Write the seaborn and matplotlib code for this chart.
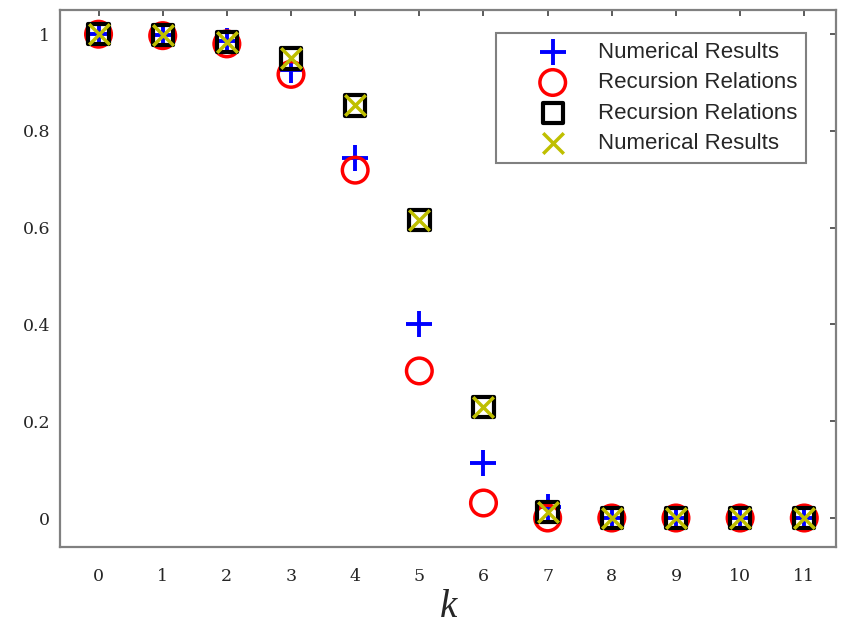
import numpy as np
import pandas as pd
import matplotlib
matplotlib.use('Agg')
import matplotlib.pyplot as plt
import seaborn as sns

# values
k = list(range(12))
num_a = [1.0, 0.998, 0.985, 0.925, 0.745, 0.40, 0.113, 0.022, 0.0, 0.0, 0.0, 0.0]
rec_a = [1.0, 0.997, 0.980, 0.917, 0.719, 0.304, 0.031, 0.0, 0.0, 0.0, 0.0, 0.0]
rec_b = [1.0, 0.998, 0.984, 0.950, 0.853, 0.616, 0.229, 0.012, 0.0, 0.0, 0.0, 0.0]
num_b = [1.0, 0.998, 0.984, 0.950, 0.853, 0.616, 0.229, 0.012, 0.0, 0.0, 0.0, 0.0]
labels = ['Numerical Results', 'Recursion Relations', 'Recursion Relations', 'Numerical Results']
yticks = [0, 0.2, 0.4, 0.6, 0.8, 1]
ytick_labels = ['0', '0.2', '0.4', '0.6', '0.8', '1']

sns.set_style('white')

fig = plt.figure(figsize=(8.42, 6.3), dpi=100)
ax = fig.add_axes([0.0713, 0.1317, 0.922, 0.8524])

# blue plus
sns.scatterplot(x=k, y=num_a, marker='+', s=330, color='#0000ff', linewidth=2.8,
                label=labels[0], ax=ax, zorder=3)
# red open circles
sns.scatterplot(x=k, y=rec_a, marker='o', s=340, facecolor='none', edgecolor='#ff0000',
                linewidth=2.5, label=labels[1], ax=ax, zorder=3)
# black open squares
sns.scatterplot(x=k, y=rec_b, marker='s', s=215, facecolor='none', edgecolor='black',
                linewidth=3.0, label=labels[2], ax=ax, zorder=3)
# yellow crosses
sns.scatterplot(x=k, y=num_b, marker='x', s=220, color='#bfbf00', linewidth=2.5,
                label=labels[3], ax=ax, zorder=3)

ax.set_xlim(-0.6, 11.5)
ax.set_ylim(-0.06, 1.05)
ax.set_xticks(k)
ax.set_xticklabels([str(i) for i in k])
ax.set_yticks(yticks)
ax.set_yticklabels(ytick_labels)

for sp in ax.spines.values():
    sp.set_color('#808080')
    sp.set_linewidth(1.6)

ax.tick_params(axis='both', direction='in', length=4, width=1.2, color='#404040',
               top=True, right=True, labelsize=12.5, labelcolor='#262626')
ax.tick_params(axis='x', pad=15)
ax.tick_params(axis='y', pad=7)
for lab in ax.get_xticklabels() + ax.get_yticklabels():
    lab.set_family('DejaVu Serif')

ax.set_xlabel('k', fontsize=28, family='Liberation Serif', style='italic', labelpad=3)
ax.set_ylabel('')

leg = ax.legend(loc='upper right', bbox_to_anchor=(0.961, 0.957), borderaxespad=0,
                fancybox=False, framealpha=1, edgecolor='#808080',
                prop={'family': 'Liberation Sans', 'size': 16},
                handlelength=4.3, handletextpad=-0.12, borderpad=0.4, labelspacing=0.42)
leg.get_frame().set_linewidth(1.5)

plt.savefig('out.png', dpi=100)
